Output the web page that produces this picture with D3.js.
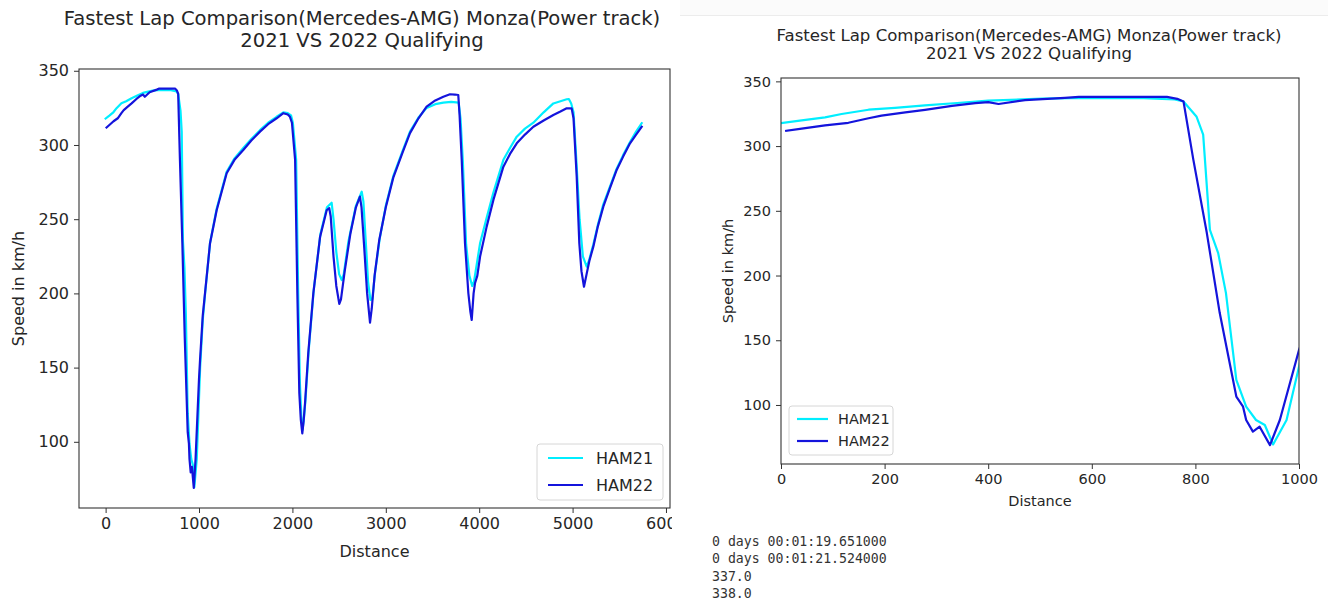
<!DOCTYPE html>
<html>
<head>
<meta charset="utf-8">
<script src="https://cdn.jsdelivr.net/npm/d3@7"></script>
<style>
  html, body { margin: 0; padding: 0; background: #fff; }
  svg { display: block; }
  text { font-family: "DejaVu Sans", sans-serif; fill: #262626; }
  .mono { font-family: "DejaVu Sans Mono", monospace; fill: #333; }
</style>
</head>
<body>
<svg id="chart" width="1328" height="602"></svg>
<script>
// Speed traces of the fastest qualifying laps at Monza (distance in m, speed in km/h)
const ham21Distance = [0, 40, 85, 117, 169, 220, 278, 340, 400, 503, 560, 625, 700, 760, 777, 802, 815, 828, 844, 859, 879, 898, 917, 934, 950, 976, 1000,
  1012, 1040, 1064, 1118, 1189, 1296, 1380, 1474, 1560, 1653, 1740, 1831, 1903, 1950, 1985, 2005,
  2040, 2062, 2080, 2095, 2108, 2122, 2140, 2175, 2228, 2300, 2370, 2420, 2440, 2470, 2500, 2528, 2550, 2600, 2680, 2742, 2760, 2790, 2810, 2835, 2855, 2885, 2935,
  3000, 3080, 3180, 3259, 3350, 3437, 3530, 3616, 3700, 3780, 3800, 3825, 3860, 3895, 3925, 3945, 3980, 4010, 4080, 4152, 4259, 4330, 4402, 4490, 4580, 4690, 4794, 4870, 4937, 4960, 4985,
  5010, 5040, 5075, 5110, 5151, 5175, 5222, 5270, 5329, 5400, 5472, 5540, 5615, 5680, 5740];
const ham21Speed = [317.8, 319.8, 322.2, 324.8, 328.1, 329.5, 331.5, 333.3, 335.1, 336.6, 337, 337, 337, 336, 334.5, 322.9, 308.8, 235.3, 217.3, 186.4, 119.3, 98.7, 88.4, 84.5, 69.5, 88.4, 129.6,
  150, 182, 199, 234, 257, 282, 291, 298, 304, 310, 315, 319, 322, 321.5, 320, 315,
  290, 200, 140, 118, 108, 115, 128, 162, 202, 240, 258, 261.1, 250, 228, 213, 209, 213, 235, 259, 268.5, 262, 230, 208, 195.6, 196, 214, 237,
  259, 279, 296, 309, 318.5, 325, 327.5, 328.5, 329, 328.5, 318, 289, 233, 212, 205, 208, 222, 234, 251, 268, 290, 298, 305.6, 311, 315, 322, 328, 329.5, 330.8, 331, 328,
  322, 290, 250, 225, 218, 222, 233, 246, 260, 272, 284, 293, 302, 309, 314.7];

const ham22Distance = [10, 40, 85, 130, 169, 194, 240, 278, 330, 375, 400, 420, 471, 548, 575, 625, 680, 745, 765, 777, 796, 822, 847, 879, 892, 898, 911, 924, 944, 963, 1000,
  1011, 1040, 1064, 1118, 1189, 1296, 1380, 1474, 1560, 1653, 1740, 1831, 1903, 1950, 1974, 1995,
  2029, 2053, 2074, 2090, 2106, 2120, 2135, 2170, 2224, 2296, 2367, 2394, 2410, 2440, 2470, 2502, 2520, 2560, 2620, 2680, 2723, 2740, 2770, 2800, 2831, 2850, 2880, 2930,
  3000, 3080, 3180, 3259, 3350, 3437, 3530, 3616, 3687, 3740, 3776, 3790, 3813, 3848, 3884, 3905, 3920, 3940, 3955, 3980, 4010, 4080, 4152, 4259, 4330, 4402, 4490, 4580, 4690, 4794, 4870, 4937, 4990,
  5010, 5044, 5072, 5095, 5122, 5150, 5180, 5222, 5270, 5329, 5400, 5472, 5540, 5615, 5680, 5740];
const ham22Speed = [311.8, 313.5, 316.0, 318.0, 321.5, 323.5, 326.0, 328.0, 331.0, 333.2, 334.0, 332.5, 335.5, 337.3, 338, 338, 338, 338, 336.5, 334.5, 289.5, 233, 171, 106.5, 98.7, 88.4, 79.4, 83.2, 69, 88.4, 142.5,
  155, 185, 200, 233.8, 256, 281, 290, 296.6, 303, 309, 314, 318, 321.4, 320.5, 319, 315,
  290, 200, 133, 115, 105.7, 114, 126, 160, 200, 238, 256, 257.5, 252, 225, 205, 192.9, 196, 215, 240, 258, 265.2, 258, 230, 200, 180.3, 190, 212, 236,
  258, 278, 295, 308, 318, 325.8, 330, 332.5, 334.2, 334, 333.7, 320, 289.9, 233.8, 200.1, 188, 182.1, 200, 206.8, 212, 225, 245, 263, 285.4, 294, 301.1, 307, 312.3, 316.5, 320.2, 322.5, 324.7, 324.7,
  318, 278.7, 233.8, 215, 204.5, 213, 222, 231.5, 245, 258.4, 271, 283.2, 292, 301.1, 307, 312.3];

const seriesNames = ["HAM21", "HAM22"];
const seriesColors = ["#00eeff", "#1414dc"];

const speedTicks = [100, 150, 200, 250, 300, 350];
const lapDistanceTicks = [0, 1000, 2000, 3000, 4000, 5000, 6000];
const zoomDistanceTicks = [0, 200, 400, 600, 800, 1000];

const titleLines = ["Fastest Lap Comparison(Mercedes-AMG) Monza(Power track)", "2021 VS 2022 Qualifying"];
const consoleLines = ["0 days 00:01:19.651000", "0 days 00:01:21.524000", "337.0", "338.0"];

const svg = d3.select("#chart");

const series = [
  { name: seriesNames[0], color: seriesColors[0], pts: ham21Distance.map((d, i) => [d, ham21Speed[i]]) },
  { name: seriesNames[1], color: seriesColors[1], pts: ham22Distance.map((d, i) => [d, ham22Speed[i]]) }
];

// Panel layouts: full lap on the left, opening 1000 m on the right
const panels = [
  { id: "full", clip: [0, 672], left: 79, right: 670, top: 69, bottom: 508,
    xDomain: [-285, 6043], yDomain: [55.4, 351.2], xTicks: lapDistanceTicks,
    fs: 16, titleFs: 19.6, titleX: 362, titleY: [18, 40], xLabelY: 551, yLabelX: 18,
    legend: { x: 537, y: 444, w: 126, h: 56, rowY: [458, 485], lineX: [548, 583], textX: 596 } },
  { id: "zoom", clip: [676, 1328], left: 781, right: 1299, top: 78, bottom: 464,
    xDomain: [0, 1000], yDomain: [54.4, 352.6], xTicks: zoomDistanceTicks,
    fs: 14.5, titleFs: 16.6, titleX: 1029, titleY: [35, 53], xLabelY: 501, yLabelX: 728,
    legend: { x: 789, y: 406, w: 104, h: 49, rowY: [419, 441], lineX: [797, 828], textX: 838 } }
];

// faint frame edge above the right panel
svg.append("rect").attr("x", 680).attr("y", 0).attr("width", 648).attr("height", 15).attr("fill", "#fbfbfb");
svg.append("line").attr("x1", 680).attr("x2", 1328).attr("y1", 15.5).attr("y2", 15.5)
  .attr("stroke", "#ececec").attr("stroke-width", 1);

panels.forEach(p => {
  const clipId = "panel-" + p.id;
  svg.append("clipPath").attr("id", clipId)
    .append("rect").attr("x", p.clip[0]).attr("y", 0)
    .attr("width", p.clip[1] - p.clip[0]).attr("height", 602);
  const g = svg.append("g").attr("clip-path", `url(#${clipId})`);

  const x = d3.scaleLinear().domain(p.xDomain).range([p.left, p.right]);
  const y = d3.scaleLinear().domain(p.yDomain).range([p.bottom, p.top]);

  // title
  titleLines.forEach((t, i) => {
    g.append("text").attr("x", p.titleX).attr("y", p.titleY[i]).attr("dy", "0.35em")
      .attr("text-anchor", "middle").style("font-size", p.titleFs + "px").text(t);
  });

  // traces, clipped to the axes box
  const plotClip = "plot-" + p.id;
  svg.append("clipPath").attr("id", plotClip)
    .append("rect").attr("x", p.left).attr("y", p.top)
    .attr("width", p.right - p.left).attr("height", p.bottom - p.top);
  const line = d3.line().x(d => x(d[0])).y(d => y(d[1]));
  const traces = g.append("g").attr("clip-path", `url(#${plotClip})`);
  series.forEach(s => {
    traces.append("path").datum(s.pts).attr("d", line)
      .attr("fill", "none").attr("stroke", s.color).attr("stroke-width", 2.2)
      .attr("stroke-linejoin", "round").attr("stroke-linecap", "square");
  });

  // axes
  const xAxis = g.append("g").attr("transform", `translate(0,${p.bottom})`)
    .call(d3.axisBottom(x).tickValues(p.xTicks).tickFormat(d3.format("d")).tickSize(5).tickPadding(5));
  const yAxis = g.append("g").attr("transform", `translate(${p.left},0)`)
    .call(d3.axisLeft(y).tickValues(speedTicks).tickFormat(d3.format("d")).tickSize(5).tickPadding(5));
  [xAxis, yAxis].forEach(a => {
    a.select(".domain").remove();
    a.selectAll(".tick line").attr("stroke", "#333").attr("stroke-width", 1);
    a.selectAll(".tick text").style("font-size", p.fs + "px")
      .style("font-family", '"DejaVu Sans", sans-serif').attr("fill", "#262626");
  });

  // axes frame
  g.append("rect").attr("x", p.left).attr("y", p.top)
    .attr("width", p.right - p.left).attr("height", p.bottom - p.top)
    .attr("fill", "none").attr("stroke", "#333").attr("stroke-width", 1.1);

  // axis labels
  g.append("text").attr("x", (p.left + p.right) / 2).attr("y", p.xLabelY).attr("dy", "0.35em")
    .attr("text-anchor", "middle").style("font-size", p.fs + "px").text("Distance");
  g.append("text").attr("transform", `translate(${p.yLabelX},${(p.top + p.bottom) / 2}) rotate(-90)`)
    .attr("dy", "0.35em").attr("text-anchor", "middle").style("font-size", p.fs + "px").text("Speed in km/h");

  // legend
  const L = p.legend;
  g.append("rect").attr("x", L.x).attr("y", L.y).attr("width", L.w).attr("height", L.h)
    .attr("rx", 3).attr("fill", "#fff").attr("fill-opacity", 0.85)
    .attr("stroke", "#d6d6d6").attr("stroke-width", 1);
  series.forEach((s, i) => {
    g.append("line").attr("x1", L.lineX[0]).attr("x2", L.lineX[1])
      .attr("y1", L.rowY[i]).attr("y2", L.rowY[i])
      .attr("stroke", s.color).attr("stroke-width", 2.2);
    g.append("text").attr("x", L.textX).attr("y", L.rowY[i]).attr("dy", "0.35em")
      .style("font-size", p.fs + "px").text(s.name);
  });
});

// printed lap times and top speeds below the right panel
consoleLines.forEach((t, i) => {
  svg.append("text").attr("class", "mono").attr("x", 712).attr("y", 541 + i * 17.5)
    .attr("dy", "0.35em").style("font-size", "13.2px").text(t);
});
</script>
</body>
</html>
